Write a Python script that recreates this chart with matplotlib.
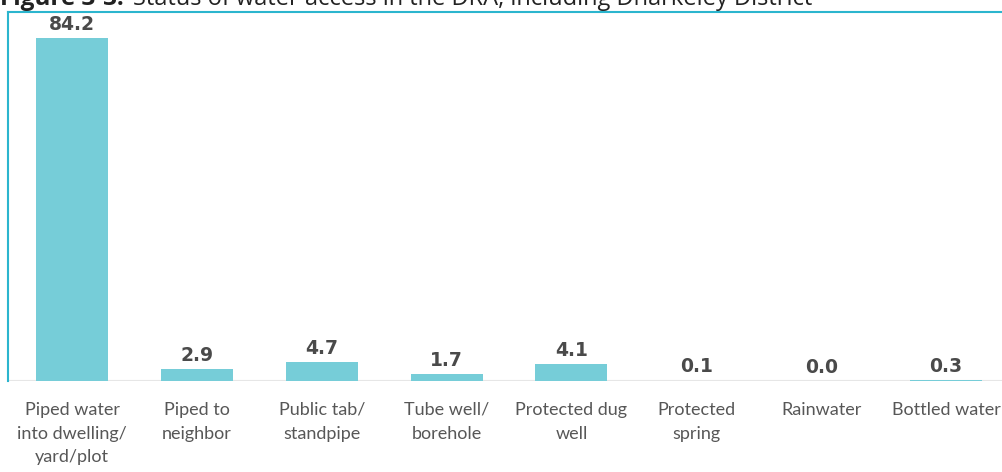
import numpy as np
import matplotlib.pyplot as plt

# water source categories and share of households (%)
categories = ["Piped water\ninto dwelling/\nyard/plot", "Piped to\nneighbor", "Public tab/\nstandpipe",
              "Tube well/\nborehole", "Protected dug\nwell", "Protected\nspring", "Rainwater", "Bottled water"]
values = [84.2, 2.9, 4.7, 1.7, 4.1, 0.1, 0.0, 0.3]

bar_color = "#76CDD8"
frame_color = "#2BB5CE"

fig = plt.figure(figsize=(10.03, 4.72), dpi=100)
ax = fig.add_axes([8 / 1003, 91 / 472, 995 / 1003, 369 / 472])

x = np.arange(len(values))
ax.bar(x, values, width=0.577, color=bar_color, zorder=2)

for xi, v in zip(x, values):
    ax.text(xi, v + 2.0, f"{v:.1f}", ha="center", va="baseline", fontsize=13.5,
            fontweight="bold", color="#4a4a4a", family="DejaVu Sans")

ax.set_xlim(-0.5126, 7.4565)
ax.set_ylim(0, 90.7)
ax.axhline(0, color="#e6e6e6", lw=1.5, zorder=1)

ax.set_xticks(x)
ax.set_xticklabels(categories, fontsize=13, color="#575757", family="Lato", linespacing=1.6)
ax.tick_params(axis="x", length=0, pad=15)
ax.set_yticks([])

for s in ["right", "bottom"]:
    ax.spines[s].set_visible(False)
for s in ["top", "left"]:
    ax.spines[s].set_color(frame_color)
    ax.spines[s].set_linewidth(1.5)

# title, cut off at the top edge like in the source
fig.text(0.0, 1 - 5 / 472, "Figure 3-3:", fontsize=17.5, fontweight="bold", color="#222222",
         family="Open Sans", va="baseline", ha="left")
fig.text(133 / 1003, 1 - 5 / 472, "Status of water access in the DRA, including Dharkeley District",
         fontsize=17, color="#222222", family="Open Sans", va="baseline", ha="left")

fig.savefig("out.png", dpi=100)
